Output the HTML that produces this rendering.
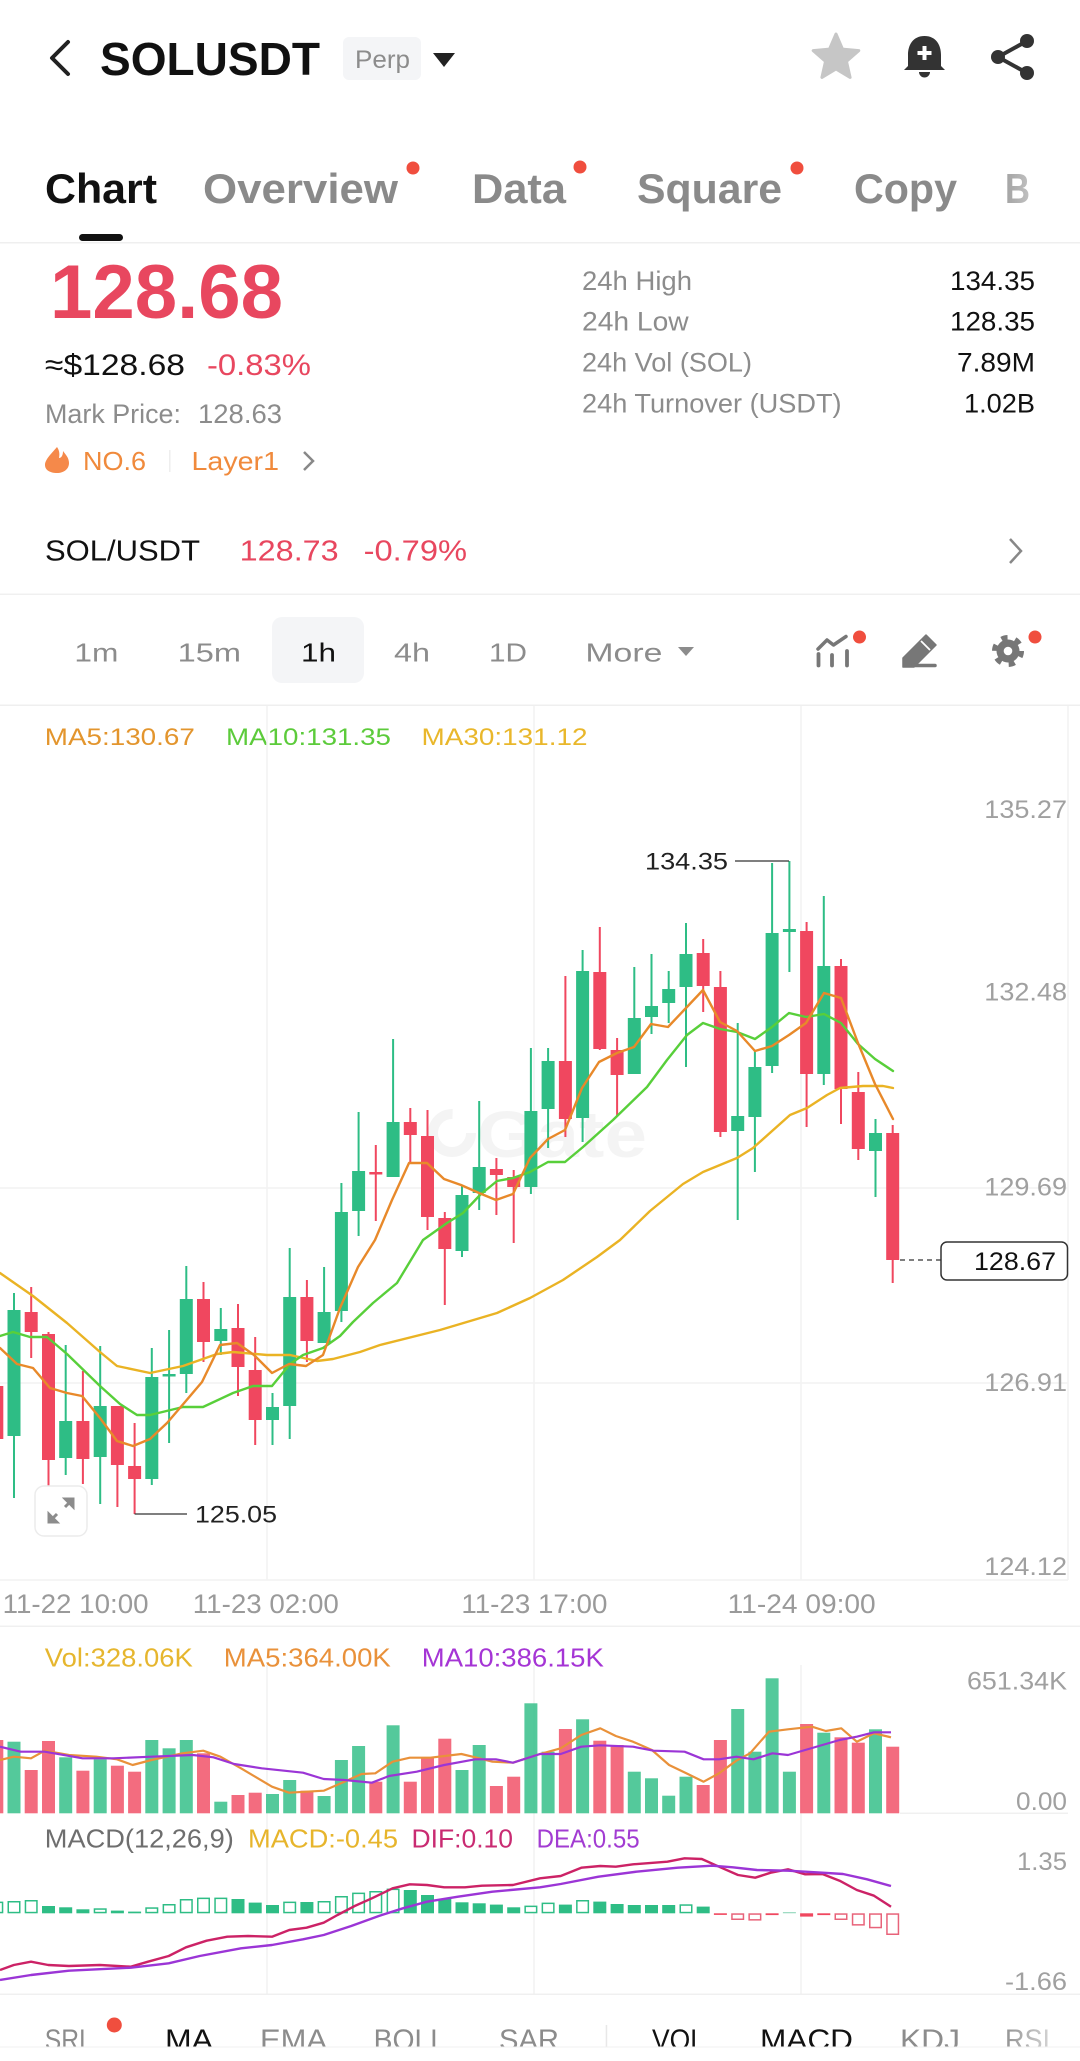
<!DOCTYPE html>
<html><head><meta charset="utf-8">
<style>
html,body{margin:0;padding:0;background:#fff;}
body{width:1080px;height:2061px;overflow:hidden;position:relative;}
svg{display:block;font-family:"Liberation Sans",Arial,sans-serif;}
.gy{fill:#8c8c8c}.bk{fill:#111}.rd{fill:#e8475f}.ax{fill:#a0a0a0}
</style></head><body>
<svg width="1080" height="2061" viewBox="0 0 1080 2061" xmlns="http://www.w3.org/2000/svg">
<defs>
<linearGradient id="fade" x1="0" x2="1" y1="0" y2="0"><stop offset="0" stop-color="#fff" stop-opacity="0"/><stop offset="1" stop-color="#fff" stop-opacity="1"/></linearGradient>
</defs>
<rect width="1080" height="2061" fill="#fff"/>

<!-- Header -->
<polyline points="68,42 52,58 68,74" fill="none" stroke="#222" stroke-width="4" stroke-linecap="round" stroke-linejoin="round"/>
<text x="100" y="75" font-size="46" font-weight="bold" class="bk" textLength="220" lengthAdjust="spacingAndGlyphs">SOLUSDT</text>
<rect x="343" y="37" width="78" height="43" rx="6" fill="#f4f5f7"/>
<text x="355" y="68" font-size="25" class="gy" textLength="55" lengthAdjust="spacingAndGlyphs">Perp</text>
<polygon points="433,53 455,53 444,67" fill="#222"/>
<polygon points="836,34 842.5,49.1 858.8,50.6 846.5,61.4 850.1,77.4 836,69 821.9,77.4 825.5,61.4 813.2,50.6 829.5,49.1" fill="#c6c6c6" stroke="#c6c6c6" stroke-width="3" stroke-linejoin="round"/>
<path d="M924.5 36 C913 36 908 45 908 55 L908 66 L904 70 L945 70 L941 66 L941 55 C941 45 936 36 924.5 36 Z" fill="#333"/>
<path d="M919 72 a5.5 5.5 0 0 0 11 0 Z" fill="#333"/>
<rect x="922.5" y="46" width="4" height="14" fill="#fff"/><rect x="917.5" y="51" width="14" height="4" fill="#fff"/>
<g stroke="#333" stroke-width="4"><line x1="998" y1="57" x2="1027" y2="41"/><line x1="998" y1="57" x2="1027" y2="73"/></g>
<g fill="#333"><circle cx="1027" cy="41" r="7"/><circle cx="998" cy="57" r="7"/><circle cx="1027" cy="73" r="7"/></g>

<!-- Tabs -->
<text x="45" y="203" font-size="42" font-weight="bold" class="bk" textLength="112" lengthAdjust="spacingAndGlyphs">Chart</text>
<g font-size="42" font-weight="bold" fill="#8a8a8a">
<text x="203" y="203" textLength="195" lengthAdjust="spacingAndGlyphs">Overview</text>
<text x="472" y="203" textLength="94" lengthAdjust="spacingAndGlyphs">Data</text>
<text x="637" y="203" textLength="145" lengthAdjust="spacingAndGlyphs">Square</text>
<text x="854" y="203" textLength="103" lengthAdjust="spacingAndGlyphs">Copy</text>
<text x="1005" y="203" textLength="25" lengthAdjust="spacingAndGlyphs">B</text>
</g>
<rect x="985" y="160" width="95" height="60" fill="url(#fade)"/>
<g fill="#f04e3e"><circle cx="413" cy="168" r="6.5"/><circle cx="580" cy="167" r="6.5"/><circle cx="797" cy="168" r="6.5"/></g>
<rect x="79" y="234" width="44" height="7" rx="3.5" fill="#111"/>
<rect x="0" y="242" width="1080" height="1.5" fill="#efefef"/>

<!-- Price block -->
<text x="50" y="318" font-size="76" font-weight="bold" class="rd" textLength="233" lengthAdjust="spacingAndGlyphs">128.68</text>
<text x="45" y="375" font-size="30" class="bk" textLength="140" lengthAdjust="spacingAndGlyphs">≈$128.68</text>
<text x="207" y="375" font-size="30" class="rd" textLength="104" lengthAdjust="spacingAndGlyphs">-0.83%</text>
<text x="45" y="423" font-size="27" class="gy" textLength="136" lengthAdjust="spacingAndGlyphs">Mark Price:</text>
<text x="198" y="423" font-size="27" class="gy" textLength="84" lengthAdjust="spacingAndGlyphs">128.63</text>
<path d="M57 447 C50 455 45 460 45 465 C45 470 50 473 57 473 C64 473 69 469 69 463 C69 458 66 455 63 451 C63 456 61 458 59 458 C60 453 59 450 57 447 Z" fill="#f5894a"/>
<text x="83" y="470" font-size="26" fill="#f08a3c" textLength="63" lengthAdjust="spacingAndGlyphs">NO.6</text>
<rect x="169" y="450" width="1.5" height="22" fill="#eee"/>
<text x="191.5" y="470" font-size="26" fill="#f08a3c" textLength="87.5" lengthAdjust="spacingAndGlyphs">Layer1</text>
<polyline points="304,452 313,461 304,470" fill="none" stroke="#888" stroke-width="2.5"/>

<g font-size="27" class="gy">
<text x="582" y="290" textLength="110" lengthAdjust="spacingAndGlyphs">24h High</text>
<text x="582" y="330.7" textLength="106.7" lengthAdjust="spacingAndGlyphs">24h Low</text>
<text x="582" y="371.7" textLength="170" lengthAdjust="spacingAndGlyphs">24h Vol (SOL)</text>
<text x="582" y="412.7" textLength="259.6" lengthAdjust="spacingAndGlyphs">24h Turnover (USDT)</text>
</g>
<g font-size="27" class="bk" text-anchor="end">
<text x="1035" y="290" textLength="85" lengthAdjust="spacingAndGlyphs">134.35</text>
<text x="1035" y="330.7" textLength="85" lengthAdjust="spacingAndGlyphs">128.35</text>
<text x="1035" y="371.7" textLength="78" lengthAdjust="spacingAndGlyphs">7.89M</text>
<text x="1035" y="412.7" textLength="71" lengthAdjust="spacingAndGlyphs">1.02B</text>
</g>

<text x="45" y="560.7" font-size="29" class="bk" textLength="155" lengthAdjust="spacingAndGlyphs">SOL/USDT</text>
<text x="239.7" y="560.7" font-size="29" class="rd" textLength="99" lengthAdjust="spacingAndGlyphs">128.73</text>
<text x="363.6" y="560.7" font-size="29" class="rd" textLength="103.4" lengthAdjust="spacingAndGlyphs">-0.79%</text>
<polyline points="1010,539 1021,551 1010,563" fill="none" stroke="#888" stroke-width="2.5"/>
<rect x="0" y="593.5" width="1080" height="1.5" fill="#f0f0f0"/>

<!-- Timeframes -->
<rect x="272" y="617" width="92" height="66" rx="10" fill="#f4f5f7"/>
<g font-size="26" class="gy">
<text x="74.4" y="661.7" textLength="44" lengthAdjust="spacingAndGlyphs">1m</text>
<text x="177.7" y="661.7" textLength="63.3" lengthAdjust="spacingAndGlyphs">15m</text>
<text x="394" y="661.7" textLength="36" lengthAdjust="spacingAndGlyphs">4h</text>
<text x="489" y="661.7" textLength="38" lengthAdjust="spacingAndGlyphs">1D</text>
<text x="585.4" y="661.7" textLength="77" lengthAdjust="spacingAndGlyphs">More</text>
</g>
<text x="301" y="661.7" font-size="26" class="bk" textLength="35" lengthAdjust="spacingAndGlyphs">1h</text>
<polygon points="678,647 694,647 686,656" fill="#8c8c8c"/>
<!-- indicator icon -->
<polyline points="818,649 827,640 833.5,645 846,636.5" fill="none" stroke="#777" stroke-width="3.5" stroke-linejoin="round" stroke-linecap="round"/>
<g stroke="#777" stroke-width="3.8" stroke-linecap="round"><line x1="818.5" y1="654" x2="818.5" y2="665.5"/><line x1="832" y1="655" x2="832" y2="665.5"/><line x1="847" y1="651" x2="847" y2="665.5"/></g>
<circle cx="859.5" cy="637" r="6.5" fill="#f04e3e"/>
<!-- pencil -->
<polygon points="926,635 936,645 914,667 903,667 903,658" fill="#777" stroke="#777" stroke-width="1.5" stroke-linejoin="round"/>
<line x1="921" y1="641" x2="930" y2="650" stroke="#fff" stroke-width="1.8"/>
<line x1="913" y1="665.5" x2="935" y2="665.5" stroke="#777" stroke-width="3.5" stroke-linecap="round"/>
<!-- gear -->
<circle cx="1008" cy="651" r="13" fill="none" stroke="#777" stroke-width="6" stroke-dasharray="6 7.6"/>
<circle cx="1008" cy="651" r="11.5" fill="#777"/>
<circle cx="1008" cy="651" r="4.3" fill="#fff"/>
<circle cx="1035" cy="637" r="6.5" fill="#f04e3e"/>
<rect x="0" y="704.5" width="1080" height="1.5" fill="#efefef"/>

<!-- MA legend -->
<g font-size="24">
<text x="44.8" y="745" fill="#e3952d" textLength="150" lengthAdjust="spacingAndGlyphs">MA5:130.67</text>
<text x="226" y="745" fill="#5ccb3b" textLength="165" lengthAdjust="spacingAndGlyphs">MA10:131.35</text>
<text x="421.5" y="745" fill="#e9b72b" textLength="166" lengthAdjust="spacingAndGlyphs">MA30:131.12</text>
</g>

<!-- grid -->
<g stroke="#f2f2f2" stroke-width="1.5">
<line x1="267" y1="706" x2="267" y2="1580"/><line x1="534" y1="706" x2="534" y2="1580"/><line x1="801" y1="706" x2="801" y2="1580"/>
<line x1="1068" y1="706" x2="1068" y2="1580"/>
<line x1="0" y1="1188" x2="1068" y2="1188"/><line x1="0" y1="1383" x2="1068" y2="1383"/><line x1="0" y1="1580" x2="1068" y2="1580"/>
<line x1="267" y1="1665" x2="267" y2="1994"/><line x1="534" y1="1665" x2="534" y2="1994"/><line x1="801" y1="1665" x2="801" y2="1994"/>
</g>

<!-- watermark -->
<g fill="#000" fill-opacity="0.045">
<circle cx="452" cy="1133" r="19" fill="none" stroke="#000" stroke-opacity="0.045" stroke-width="10" stroke-dasharray="90 30"/>
<text x="477" y="1157" font-size="66" font-weight="bold" textLength="170" lengthAdjust="spacingAndGlyphs">Gate</text>
</g>

<!-- price axis labels -->
<g font-size="25" class="ax" text-anchor="end">
<text x="1067" y="818" textLength="82.7" lengthAdjust="spacingAndGlyphs">135.27</text>
<text x="1067" y="1000.7" textLength="82.7" lengthAdjust="spacingAndGlyphs">132.48</text>
<text x="1067" y="1195.7" textLength="82.7" lengthAdjust="spacingAndGlyphs">129.69</text>
<text x="1067" y="1391" textLength="82.7" lengthAdjust="spacingAndGlyphs">126.91</text>
<text x="1067" y="1575" textLength="82.7" lengthAdjust="spacingAndGlyphs">124.12</text>
</g>

<!-- candles: wicks -->
<path fill="none" stroke="#2ebd85" stroke-width="2" d="M14 1293V1498 M65.7 1345V1475 M100.2 1346V1504 M151.8 1348V1485 M169.1 1330V1443 M186.3 1266V1393 M220.8 1308V1355 M272.5 1393V1445 M289.7 1248V1439 M324.1 1267V1343 M341.4 1183V1322 M358.6 1112V1236 M393.1 1039V1177 M462 1186V1257 M479.2 1101V1210 M530.9 1048V1194 M548.1 1048V1148 M582.6 950V1142 M634.3 967V1074 M651.5 954V1034 M668.7 971V1023 M686 923V1067 M737.7 1023V1220 M754.9 1050V1172 M772.1 863V1073 M789.4 861V972 M823.8 896V1085 M875.5 1119V1197"/>
<path fill="none" stroke="#f0475f" stroke-width="2" d="M-3.2 1375V1445 M31.2 1287V1358 M48.5 1332V1486 M82.9 1371V1484 M117.4 1406V1507 M134.6 1423V1514 M203.5 1282V1362 M238 1304V1396 M255.2 1337V1445 M306.9 1280V1362 M375.8 1145V1221 M410.3 1108V1162 M427.5 1110V1230 M444.8 1212V1305 M496.4 1158V1215 M513.7 1170V1243 M565.4 976V1137 M599.8 927V1050 M617.1 1038V1116 M703.2 939V1012 M720.4 971V1137 M806.6 922V1127 M841 959V1124 M858.3 1072V1160 M892.7 1125V1283"/>
<g fill="#2ebd85">
<rect x="7.5" y="1310" width="13" height="126"/><rect x="59.2" y="1421" width="13" height="37"/><rect x="93.7" y="1406" width="13" height="51"/><rect x="145.3" y="1377" width="13" height="102"/><rect x="162.6" y="1374" width="13" height="2.5"/><rect x="179.8" y="1299" width="13" height="75"/><rect x="214.3" y="1329" width="13" height="12"/><rect x="266" y="1407" width="13" height="13"/><rect x="283.2" y="1297" width="13" height="109"/><rect x="317.6" y="1312" width="13" height="31"/><rect x="334.9" y="1212" width="13" height="99"/><rect x="352.1" y="1171" width="13" height="40"/><rect x="386.6" y="1122" width="13" height="55"/><rect x="455.5" y="1195" width="13" height="56"/><rect x="472.7" y="1167" width="13" height="26"/><rect x="524.4" y="1111" width="13" height="76"/><rect x="541.6" y="1061" width="13" height="48"/><rect x="576.1" y="971" width="13" height="147"/><rect x="627.8" y="1018" width="13" height="56"/><rect x="645" y="1006" width="13" height="11"/><rect x="662.2" y="989" width="13" height="14"/><rect x="679.5" y="954" width="13" height="33"/><rect x="731.2" y="1116" width="13" height="15"/><rect x="748.4" y="1067" width="13" height="50"/><rect x="765.6" y="933" width="13" height="133"/><rect x="782.9" y="929" width="13" height="3"/><rect x="817.3" y="966" width="13" height="108"/><rect x="869" y="1133" width="13" height="18"/>
</g>
<g fill="#f0475f">
<rect x="-9.7" y="1386" width="13" height="53"/><rect x="24.7" y="1312" width="13" height="20"/><rect x="42" y="1334" width="13" height="126"/><rect x="76.4" y="1421" width="13" height="38"/><rect x="110.9" y="1406" width="13" height="59"/><rect x="128.1" y="1466" width="13" height="13"/><rect x="197" y="1299" width="13" height="43"/><rect x="231.5" y="1328" width="13" height="39"/><rect x="248.7" y="1370" width="13" height="50"/><rect x="300.4" y="1297" width="13" height="44"/><rect x="369.3" y="1172" width="13" height="2.5"/><rect x="403.8" y="1122" width="13" height="13"/><rect x="421" y="1136" width="13" height="81"/><rect x="438.3" y="1218" width="13" height="31"/><rect x="489.9" y="1169" width="13" height="6"/><rect x="507.2" y="1177" width="13" height="10"/><rect x="558.9" y="1061" width="13" height="58"/><rect x="593.3" y="972" width="13" height="77"/><rect x="610.6" y="1050" width="13" height="25"/><rect x="696.7" y="953" width="13" height="33"/><rect x="713.9" y="987" width="13" height="145"/><rect x="800.1" y="931" width="13" height="143"/><rect x="834.5" y="966" width="13" height="123"/><rect x="851.8" y="1092" width="13" height="57"/><rect x="886.2" y="1133" width="13" height="127"/>
</g>

<!-- MA lines -->
<g fill="none" stroke-width="2.4" stroke-linejoin="round" stroke-linecap="round">
<polyline stroke="#eab324" points="0,1273 33,1296 67,1323 100,1352 117,1366 150,1373 183,1366 217,1354 233,1352 267,1355 290,1355 317,1361 333,1359 360,1352 380,1345 440,1330 497,1313 530,1298 563,1280 597,1257 620,1240 650,1211 683,1184 703,1172 737,1158 753,1148 790,1115 807,1108 827,1095 840,1088 863,1086 883,1086 893,1088"/>
<polyline stroke="#58cf3a" points="0,1336 13,1332 30,1337 47,1337 67,1354 100,1386 120,1404 137,1415 150,1415 183,1407 203,1407 233,1393 253,1386 272,1386 290,1364 303,1355 323,1348 340,1336 353,1322 373,1303 397,1283 423,1240 447,1223 463,1213 480,1195 497,1181 513,1178 530,1172 548,1162 565,1162 583,1147 613,1120 647,1087 667,1060 687,1035 703,1023 720,1029 737,1032 755,1039 772,1027 789,1013 806,1017 824,1014 841,1023 858,1044 875,1059 893,1071"/>
<polyline stroke="#e8892a" points="0,1348 17,1364 33,1368 50,1388 67,1393 82,1396 100,1418 117,1441 133,1446 150,1439 167,1423 185,1402 202,1382 220,1345 237,1343 254,1355 272,1373 289,1364 306,1366 323,1355 340,1308 358,1267 375,1240 392,1200 409,1163 427,1163 444,1179 461,1185 479,1193 496,1200 513,1194 530,1158 548,1139 565,1130 582,1088 599,1062 617,1053 634,1047 651,1024 668,1027 686,1008 703,990 720,1022 737,1031 755,1051 772,1046 789,1035 806,1023 824,993 841,998 858,1043 875,1084 893,1119"/>
</g>

<!-- high / low markers -->
<line x1="735" y1="861" x2="789" y2="861" stroke="#333" stroke-width="1.3"/>
<text x="645" y="869.5" font-size="24" fill="#222" textLength="83" lengthAdjust="spacingAndGlyphs">134.35</text>
<line x1="134.6" y1="1514" x2="187" y2="1514" stroke="#333" stroke-width="1.3"/>
<text x="195" y="1522.5" font-size="24" fill="#222" textLength="82" lengthAdjust="spacingAndGlyphs">125.05</text>

<!-- current price -->
<line x1="900" y1="1260" x2="941" y2="1260" stroke="#333" stroke-width="1.3" stroke-dasharray="5 4"/>
<rect x="941" y="1242" width="126.5" height="38" rx="6" fill="#fff" stroke="#333" stroke-width="1.5"/>
<text x="1056" y="1270" font-size="25" fill="#111" text-anchor="end" textLength="82" lengthAdjust="spacingAndGlyphs">128.67</text>

<!-- expand icon -->
<rect x="35" y="1486" width="52" height="50" rx="9" fill="#fff" stroke="#ececec" stroke-width="1.5"/>
<g fill="#8c8c8c" stroke="#8c8c8c" stroke-width="3">
<line x1="50" y1="1521" x2="57" y2="1514"/><line x1="72" y1="1500" x2="65" y2="1507"/>
<polygon points="48,1523 48,1512 59,1523" stroke-width="1"/><polygon points="74,1498 63,1498 74,1509" stroke-width="1"/>
</g>

<!-- date axis -->
<g font-size="27" fill="#9a9a9a">
<text x="2.6" y="1613" textLength="146" lengthAdjust="spacingAndGlyphs">11-22 10:00</text>
<text x="192.8" y="1613" textLength="146" lengthAdjust="spacingAndGlyphs">11-23 02:00</text>
<text x="461.4" y="1613" textLength="146" lengthAdjust="spacingAndGlyphs">11-23 17:00</text>
<text x="727.7" y="1613" textLength="148" lengthAdjust="spacingAndGlyphs">11-24 09:00</text>
</g>
<rect x="0" y="1625.5" width="1080" height="1.5" fill="#f0f0f0"/>

<!-- Volume legend -->
<g font-size="26">
<text x="44.8" y="1666.7" fill="#e6b62e" textLength="148" lengthAdjust="spacingAndGlyphs">Vol:328.06K</text>
<text x="223.8" y="1666.7" fill="#e9913a" textLength="167" lengthAdjust="spacingAndGlyphs">MA5:364.00K</text>
<text x="421.8" y="1666.7" fill="#a535d5" textLength="182" lengthAdjust="spacingAndGlyphs">MA10:386.15K</text>
</g>
<g font-size="25" class="ax" text-anchor="end">
<text x="1067" y="1689.3" textLength="100" lengthAdjust="spacingAndGlyphs">651.34K</text>
<text x="1067" y="1810" textLength="51" lengthAdjust="spacingAndGlyphs">0.00</text>
</g>
<line x1="900" y1="1813.3" x2="1068" y2="1813.3" stroke="#f0f0f0" stroke-width="1.5"/>

<!-- Volume bars -->
<g fill="#2ebd85" fill-opacity="0.82">
<rect x="7.5" y="1741.7" width="13" height="71.6"/><rect x="59.2" y="1757.3" width="13" height="56"/><rect x="93.7" y="1759.3" width="13" height="54"/><rect x="145.3" y="1740" width="13" height="73.3"/><rect x="162.6" y="1748.3" width="13" height="65"/><rect x="179.8" y="1740" width="13" height="73.3"/><rect x="214.3" y="1801.7" width="13" height="11.6"/><rect x="266" y="1794" width="13" height="19.3"/><rect x="283.2" y="1780" width="13" height="33.3"/><rect x="317.6" y="1796" width="13" height="17.3"/><rect x="334.9" y="1760" width="13" height="53.3"/><rect x="352.1" y="1746" width="13" height="67.3"/><rect x="386.6" y="1725.3" width="13" height="88"/><rect x="455.5" y="1770" width="13" height="43.3"/><rect x="472.7" y="1745" width="13" height="68.3"/><rect x="524.4" y="1703.3" width="13" height="110"/><rect x="541.6" y="1751.7" width="13" height="61.6"/><rect x="576.1" y="1719.3" width="13" height="94"/><rect x="627.8" y="1771.7" width="13" height="41.6"/><rect x="645" y="1778.3" width="13" height="35"/><rect x="662.2" y="1795.7" width="13" height="17.6"/><rect x="679.5" y="1776.7" width="13" height="36.6"/><rect x="731.2" y="1709" width="13" height="104.3"/><rect x="748.4" y="1751.7" width="13" height="61.6"/><rect x="765.6" y="1678.3" width="13" height="135"/><rect x="782.9" y="1771.7" width="13" height="41.6"/><rect x="817.3" y="1732.7" width="13" height="80.6"/><rect x="869" y="1729.3" width="13" height="84"/>
</g>
<g fill="#f0475f" fill-opacity="0.8">
<rect x="-9.7" y="1740" width="13" height="73.3"/><rect x="24.7" y="1770" width="13" height="43.3"/><rect x="42" y="1741" width="13" height="72.3"/><rect x="76.4" y="1770.7" width="13" height="42.6"/><rect x="110.9" y="1765.7" width="13" height="47.6"/><rect x="128.1" y="1771.7" width="13" height="41.6"/><rect x="197" y="1753.3" width="13" height="60"/><rect x="231.5" y="1795" width="13" height="18.3"/><rect x="248.7" y="1792.7" width="13" height="20.6"/><rect x="300.4" y="1790.7" width="13" height="22.6"/><rect x="369.3" y="1781.7" width="13" height="31.6"/><rect x="403.8" y="1781.7" width="13" height="31.6"/><rect x="421" y="1757.3" width="13" height="56"/><rect x="438.3" y="1738.7" width="13" height="74.6"/><rect x="489.9" y="1786" width="13" height="27.3"/><rect x="507.2" y="1776.7" width="13" height="36.6"/><rect x="558.9" y="1729" width="13" height="84.3"/><rect x="593.3" y="1740.7" width="13" height="72.6"/><rect x="610.6" y="1745" width="13" height="68.3"/><rect x="696.7" y="1785" width="13" height="28.3"/><rect x="713.9" y="1740" width="13" height="73.3"/><rect x="800.1" y="1724" width="13" height="89.3"/><rect x="834.5" y="1737.3" width="13" height="76"/><rect x="851.8" y="1742.7" width="13" height="70.6"/><rect x="886.2" y="1746.7" width="13" height="66.6"/>
</g>
<g fill="none" stroke-width="2.2" stroke-linejoin="round">
<polyline stroke="#e9913a" points="0,1760 13.8,1756.7 31,1758.3 44.8,1750.7 68.9,1755 96.4,1756.7 117,1759.3 132.6,1765 151.5,1760 182.5,1753.3 203.2,1750.7 220.4,1756.7 241,1768.3 272,1786.7 289,1792.7 323.7,1790.7 344.4,1781.7 361.6,1774 375.3,1773.3 392.6,1761.7 409.8,1757.7 430.4,1757.7 461.4,1754 475.2,1757.3 492.4,1761.7 513,1762.7 540,1754 560.7,1748.3 581.3,1735 600.3,1728.3 615.8,1736 633,1741.7 651.9,1750 669.1,1765 686.3,1773.3 703.6,1781.7 719,1773.3 736.3,1760.7 750,1753.3 769,1731.7 788,1729.3 812,1726.7 825.8,1731 841.3,1728.3 856.8,1741.7 874,1733.3 891,1737.3"/>
<polyline stroke="#9b35d6" points="0,1746.7 20.7,1751.7 44.8,1751.7 82.6,1758.3 113.6,1758.3 151.5,1756.7 192.8,1755 213.5,1757.3 234.2,1764 261.7,1768.3 303,1772.7 323.7,1779 344.4,1780 371.9,1782.7 389,1776 416.7,1771.7 444.2,1765 475.2,1759.3 495.9,1759.3 513,1762.7 540,1754 560.7,1754 581.3,1746.7 600.3,1745.3 633,1746.7 653.6,1750.7 684.6,1751.7 703.6,1759.3 719,1759.3 736.3,1756.7 753.5,1759.3 772.4,1753.3 788,1755 805.2,1750 839.6,1740 856.8,1736.7 874,1732.3 891,1732.3"/>
</g>

<!-- MACD legend -->
<g font-size="26">
<text x="44.8" y="1847.3" fill="#6e6e6e" textLength="189" lengthAdjust="spacingAndGlyphs">MACD(12,26,9)</text>
<text x="248" y="1847.3" fill="#e7b52c" textLength="150" lengthAdjust="spacingAndGlyphs">MACD:-0.45</text>
<text x="411.5" y="1847.3" fill="#c92b72" textLength="101.5" lengthAdjust="spacingAndGlyphs">DIF:0.10</text>
<text x="536.6" y="1847.3" fill="#a23cd2" textLength="103" lengthAdjust="spacingAndGlyphs">DEA:0.55</text>
</g>
<g font-size="25" class="ax" text-anchor="end">
<text x="1067" y="1870" textLength="50" lengthAdjust="spacingAndGlyphs">1.35</text>
<text x="1067" y="1990" textLength="62" lengthAdjust="spacingAndGlyphs">-1.66</text>
</g>

<!-- MACD histogram -->
<g fill="#fff" stroke="#2ebd85" stroke-width="1.5">
<rect x="-8.95" y="1902.35" width="11.5" height="10.2"/><rect x="8.25" y="1901.75" width="11.5" height="10.8"/><rect x="25.45" y="1900.75" width="11.5" height="11.8"/><rect x="94.45" y="1909.05" width="11.5" height="3.5"/><rect x="146.05" y="1908.05" width="11.5" height="4.5"/><rect x="163.35" y="1904.75" width="11.5" height="7.8"/><rect x="180.55" y="1899.75" width="11.5" height="12.8"/><rect x="197.75" y="1898.35" width="11.5" height="14.2"/><rect x="215.05" y="1898.35" width="11.5" height="14.2"/><rect x="283.95" y="1902.35" width="11.5" height="10.2"/><rect x="318.35" y="1901.75" width="11.5" height="10.8"/><rect x="335.65" y="1896.75" width="11.5" height="15.8"/><rect x="352.85" y="1893.35" width="11.5" height="19.2"/><rect x="370.05" y="1891.75" width="11.5" height="20.8"/><rect x="387.35" y="1889.35" width="11.5" height="23.2"/><rect x="525.15" y="1906.35" width="11.5" height="6.2"/><rect x="542.35" y="1903.35" width="11.5" height="9.2"/><rect x="576.85" y="1900.75" width="11.5" height="11.8"/><rect x="680.25" y="1905.05" width="11.5" height="7.5"/>
</g>
<rect x="782.9" y="1912" width="13" height="1.3" fill="#9fdcc4"/>
<g fill="#2ebd85">
<rect x="42" y="1906" width="13" height="7.3"/><rect x="59.2" y="1907.3" width="13" height="6"/><rect x="76.4" y="1909.3" width="13" height="4"/><rect x="110.9" y="1910.6" width="13" height="2.7"/><rect x="128.1" y="1911.6" width="13" height="1.7"/><rect x="231.5" y="1899" width="13" height="14.3"/><rect x="248.7" y="1902.6" width="13" height="10.7"/><rect x="266" y="1905" width="13" height="8.3"/><rect x="300.4" y="1902" width="13" height="11.3"/><rect x="403.8" y="1890" width="13" height="23.3"/><rect x="421" y="1895" width="13" height="18.3"/><rect x="438.3" y="1899" width="13" height="14.3"/><rect x="455.5" y="1902.3" width="13" height="11"/><rect x="472.7" y="1903.3" width="13" height="10"/><rect x="489.9" y="1904.6" width="13" height="8.7"/><rect x="507.2" y="1907.3" width="13" height="6"/><rect x="558.9" y="1904.6" width="13" height="8.7"/><rect x="593.3" y="1901.6" width="13" height="11.7"/><rect x="610.6" y="1904" width="13" height="9.3"/><rect x="627.8" y="1905" width="13" height="8.3"/><rect x="645" y="1905" width="13" height="8.3"/><rect x="662.2" y="1905" width="13" height="8.3"/><rect x="696.7" y="1906.6" width="13" height="6.7"/>
</g>
<g fill="#f0475f">
<rect x="713.9" y="1913.3" width="13" height="1.6"/><rect x="765.6" y="1913.3" width="13" height="1.8"/><rect x="800.1" y="1913.3" width="13" height="3.3"/><rect x="817.3" y="1913.3" width="13" height="1.8"/>
</g>
<g fill="#fff" stroke="#e8637a" stroke-width="1.5">
<rect x="731.95" y="1914.05" width="11.5" height="5.2"/><rect x="749.15" y="1914.05" width="11.5" height="5.8"/><rect x="835.25" y="1914.05" width="11.5" height="5.2"/><rect x="852.55" y="1914.05" width="11.5" height="10.8"/><rect x="869.75" y="1914.05" width="11.5" height="13.5"/><rect x="886.95" y="1914.05" width="11.5" height="20.2"/>
</g>
<g fill="none" stroke-width="2.4" stroke-linejoin="round">
<polyline stroke="#cc2266" points="0,1970 13.8,1965 31,1961.7 48.2,1965 68.9,1966 99.9,1965 130.9,1966.7 148,1961.7 168.7,1956 186,1947.3 206.6,1940.7 227.3,1936.7 248,1936 272,1936.7 289.3,1930 306.5,1927.7 323.7,1922.7 337.5,1915 354.7,1906 371.9,1898.3 392.6,1888.3 409.8,1884.3 427,1885 444.2,1887.3 464.9,1887.3 482,1885.7 513,1885 540,1878.3 560.7,1876 581.3,1867.7 600.3,1866 615.8,1866.7 633,1864.3 667.4,1861.7 684.6,1858.3 701.8,1859 719,1866.7 738,1875 755.2,1877.7 770.7,1872.7 788,1869.3 805.2,1874.3 822.4,1874 839.6,1880.7 856.8,1890 874,1895.7 891,1906.7"/>
<polyline stroke="#9b35d6" points="0,1980 31,1975 68.9,1970.7 130.9,1967.7 168.7,1963.3 199.7,1956 241,1948.3 272,1945 303,1939.3 323.7,1935 351.2,1926 378.8,1916 402.9,1908.3 427,1901.7 458,1896.7 492.4,1891.7 540,1887.3 560.7,1884 598.5,1876.7 636.4,1871.7 677.7,1867.7 712.2,1865.7 732.8,1867.3 757,1870 788,1870.7 822.4,1872.7 843,1874 867.1,1879.3 891,1886"/>
</g>
<rect x="0" y="1993.5" width="1080" height="1.5" fill="#f0f0f0"/>

<!-- bottom indicator tabs -->
<g font-size="29">
<text x="44.8" y="2049.5" class="gy" textLength="48" lengthAdjust="spacingAndGlyphs">SRL</text>
<text x="165" y="2049.5" class="bk" textLength="48" lengthAdjust="spacingAndGlyphs">MA</text>
<text x="260" y="2049.5" class="gy" textLength="67" lengthAdjust="spacingAndGlyphs">EMA</text>
<text x="373.6" y="2049.5" class="gy" textLength="72.4" lengthAdjust="spacingAndGlyphs">BOLL</text>
<text x="499" y="2049.5" class="gy" textLength="60" lengthAdjust="spacingAndGlyphs">SAR</text>
<text x="652" y="2049.5" class="bk" textLength="53" lengthAdjust="spacingAndGlyphs">VOL</text>
<text x="760" y="2049.5" class="bk" textLength="93" lengthAdjust="spacingAndGlyphs">MACD</text>
<text x="900" y="2049.5" class="gy" textLength="60" lengthAdjust="spacingAndGlyphs">KDJ</text>
<text x="1005" y="2049.5" class="gy" textLength="45" lengthAdjust="spacingAndGlyphs">RSI</text>
</g>
<rect x="1000" y="2015" width="80" height="35" fill="url(#fade)"/>
<rect x="605.7" y="2025" width="1.5" height="22" fill="#e8e8e8"/>
<circle cx="114.3" cy="2025" r="7.5" fill="#f04e3e"/>
<rect x="0" y="2047" width="1080" height="14" fill="#fff"/>
<rect x="0" y="2046.5" width="1080" height="1" fill="#f0f0f0"/>
</svg>
</body></html>
